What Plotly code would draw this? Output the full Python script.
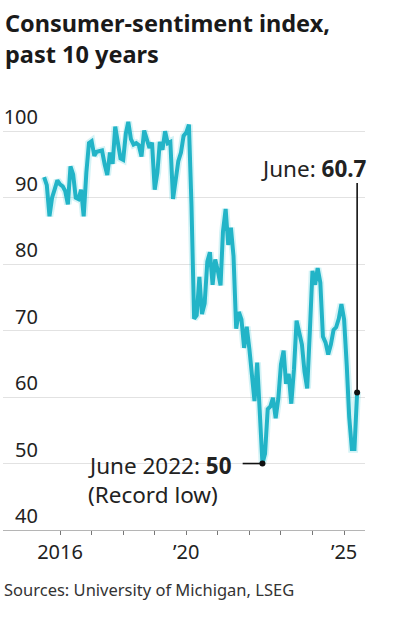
import pandas as pd
import plotly.graph_objects as go

# Monthly University of Michigan consumer-sentiment index, Jul 2015 – Jun 2025
v2015 = [93.1, 91.9, 87.2, 90.0, 91.3, 92.6]  # Jul-Dec
v2016 = [92.0, 91.7, 91.0, 89.0, 94.7, 93.5, 90.0, 89.8, 91.2, 87.2, 93.8, 98.2]
v2017 = [98.5, 96.3, 96.9, 97.0, 97.1, 95.0, 93.4, 96.8, 95.1, 100.7, 98.5, 95.9]
v2018 = [95.7, 99.7, 101.4, 98.8, 98.0, 98.2, 97.9, 96.2, 100.1, 98.6, 97.5, 98.3]
v2019 = [91.2, 93.8, 98.4, 97.2, 100.0, 98.2, 98.4, 89.8, 93.2, 95.5, 96.8, 99.3]
v2020 = [99.8, 101.0, 89.1, 71.8, 72.3, 78.1, 72.5, 74.1, 80.4, 81.8, 76.9, 80.7]
v2021 = [79.0, 76.8, 84.9, 88.3, 82.9, 85.5, 81.2, 70.3, 72.8, 71.7, 67.4, 70.6]
v2022 = [67.2, 62.8, 59.4, 65.2, 58.4, 50.0, 51.5, 58.2, 58.6, 59.9, 56.8, 59.7]
v2023 = [64.9, 67.0, 62.0, 63.5, 59.0, 64.2, 71.5, 69.5, 67.9, 63.8, 61.3, 69.7]
v2024 = [79.0, 76.9, 79.4, 77.2, 69.1, 68.2, 66.4, 67.9, 70.1, 70.5, 71.8, 74.0]
v2025 = [71.7, 64.7, 57.0, 52.2, 52.2, 60.7]  # Jan-Jun

values = v2015 + v2016 + v2017 + v2018 + v2019 + v2020 + v2021 + v2022 + v2023 + v2024 + v2025
dates = pd.date_range("2015-07-01", periods=len(values), freq="MS")

tick_vals = [f"{y}-01-01" for y in range(2016, 2026)]
tick_text = ["2016", "", "", "", "\u201920", "", "", "", "", "\u201925"]
y_ticks = [40, 50, 60, 70, 80, 90, 100]

low_idx = values.index(min(values))
last_idx = len(values) - 1

LINE = "#22b4c7"
TXT = "#222222"
FONT = "Noto Sans"

fig = go.Figure()
# soft halo under the line
fig.add_trace(go.Scatter(x=dates, y=values, mode="lines",
                         line=dict(color="rgba(60,200,215,0.22)", width=7.5), hoverinfo="skip"))
fig.add_trace(go.Scatter(x=dates, y=values, mode="lines",
                         line=dict(color=LINE, width=4), hoverinfo="skip"))

# leader lines
fig.add_shape(type="line", xref="x", yref="y",
              x0=dates[last_idx], x1=dates[last_idx], y0=values[last_idx], y1=92.2,
              line=dict(color="#111111", width=1.6))
fig.add_shape(type="line", xref="x", yref="y",
              x0="2021-10-15", x1=dates[low_idx], y0=values[low_idx], y1=values[low_idx],
              line=dict(color="#111111", width=1.6))

fig.add_trace(go.Scatter(x=[dates[low_idx], dates[last_idx]],
                         y=[values[low_idx], values[last_idx]], mode="markers",
                         marker=dict(color="#111111", size=6), hoverinfo="skip"))

fig.add_annotation(xref="paper", yref="y", x=1.0, y=94.4, xanchor="right", yanchor="middle",
                   xshift=4, text="June: <b>60.7</b>", showarrow=False,
                   font=dict(family=FONT, size=22.5, color=TXT))
fig.add_annotation(xref="paper", yref="y", x=(86 - 3) / 362, y=49.7, xanchor="left", yanchor="middle",
                   text="June 2022: <b>50</b>", showarrow=False,
                   font=dict(family=FONT, size=22.5, color=TXT))
fig.add_annotation(xref="paper", yref="y", x=(86 - 3) / 362, y=45.3, xanchor="left", yanchor="middle",
                   text="(Record low)", showarrow=False,
                   font=dict(family=FONT, size=22.5, color=TXT))

# title
fig.add_annotation(xref="paper", yref="paper", x=0, y=(530 - 39) / 432, xanchor="left", yanchor="middle",
                   text="<b>Consumer-sentiment index,<br>past 10 years</b>", showarrow=False, align="left",
                   font=dict(family=FONT, size=23.5, color="#1a1a1a"))

fig.add_annotation(xref="paper", yref="paper", x=0, y=(530 - 589) / 432, xanchor="left", yanchor="middle",
                   xshift=-1, text="Sources: University of Michigan, LSEG", showarrow=False,
                   font=dict(family=FONT, size=16.5, color="#333333"))

fig.update_layout(
    width=398, height=628,
    margin=dict(l=3, r=33, t=98, b=98, autoexpand=False),
    paper_bgcolor="white", plot_bgcolor="white",
    showlegend=False,
    xaxis=dict(type="date", range=["2014-03-12", "2025-08-31"],
               tickvals=tick_vals, ticktext=tick_text,
               ticks="outside", ticklen=4, tickwidth=1.2, tickcolor="#777777",
               showgrid=False, showline=True, linecolor="#b5b5b5", linewidth=1,
               zeroline=False, automargin=False,
               tickfont=dict(family=FONT, size=20, color=TXT)),
    yaxis=dict(range=[40, 105], tickvals=y_ticks,
               showgrid=True, gridcolor="#e2e2e2", gridwidth=1,
               zeroline=False, showline=False, ticks="",
               ticklabelposition="outside", ticklabelstandoff=-36, ticklabelshift=-14,
               automargin=False,
               tickfont=dict(family=FONT, size=20, color=TXT)),
)

fig.write_html("out.html", config={"displayModeBar": False},
               post_script="document.body.style.margin='0';")
